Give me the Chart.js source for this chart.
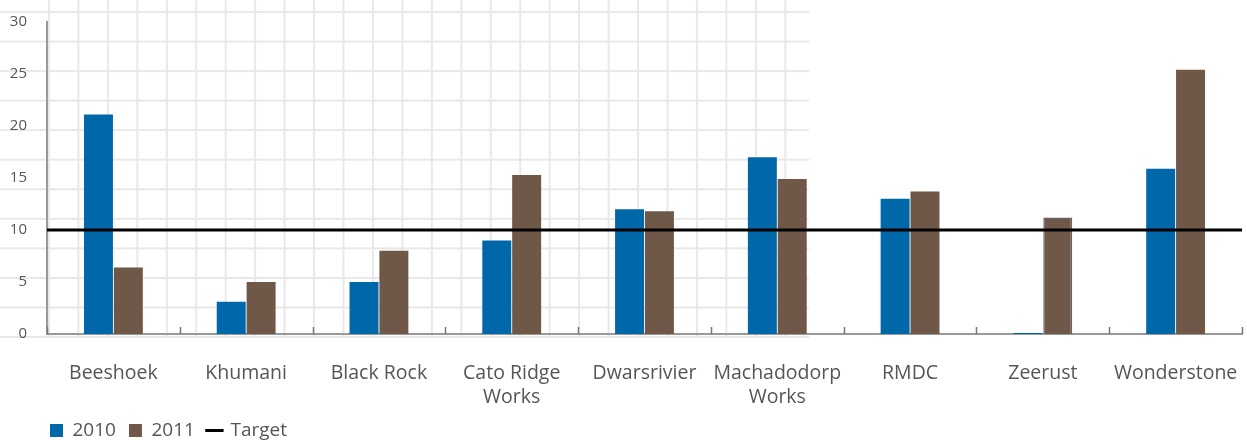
<!DOCTYPE html>
<html>
<head>
<meta charset="utf-8">
<script src="https://cdn.jsdelivr.net/npm/chart.js@4/dist/chart.umd.min.js"></script>
<style>
  html, body { margin: 0; padding: 0; background: #fff; }
  #wrap { position: relative; width: 1247px; height: 440px; overflow: hidden; }
  /* graph-paper background behind the left part of the plot */
  #gridH {
    position: absolute; left: 0; top: 0; width: 809px; height: 338px;
    background-image: linear-gradient(to bottom, #e8e8e8 0, #e8e8e8 2px, transparent 2px);
    background-size: 100% 29.55px; background-position: 0 11px;
  }
  #gridV {
    position: absolute; left: 48px; top: 0; width: 761px; height: 338px;
    background-image: linear-gradient(to right, #e8e8e8 0, #e8e8e8 2px, transparent 2px);
    background-size: 29.46px 100%; background-position: 0 0;
  }
  #trendChart { position: absolute; left: 0; top: 0; }
</style>
</head>
<body>
<div id="wrap">
  <div id="gridH"></div>
  <div id="gridV"></div>
  <canvas id="trendChart" width="1247" height="440"></canvas>
</div>
<script>
// DATA
const categories = [
    "Beeshoek", "Khumani", "Black Rock", ["Cato Ridge", "Works"], "Dwarsrivier",
    ["Machadodorp", "Works"], "RMDC", "Zeerust", "Wonderstone"
];
const values2010 = [21.1, 3.1, 5.0, 9.0, 12.0, 17.0, 13.0, 0.1, 15.9];
const values2011 = [6.4, 5.0, 8.0, 15.3, 11.8, 14.9, 13.7, 11.2, 25.4];
const targetValue = 10;

// target runs edge to edge of the category axis (-0.5 .. n-0.5)
const targetPoints = [
    { x: -0.5, y: targetValue },
    { x: categories.length - 0.5, y: targetValue }
];

// small tick marks pointing up from the x axis at category boundaries
const boundaryTicks = {
    id: "boundaryTicks",
    afterDatasetsDraw(chart) {
        const x = chart.scales.x;
        const c = chart.ctx;
        c.save();
        c.strokeStyle = "#777";
        c.lineWidth = 1.5;
        for (let i = 0; i <= categories.length; i++) {
            const px = Math.round(x.getPixelForValue(i - 0.5)) + 0.5;
            c.beginPath();
            c.moveTo(px, x.top);
            c.lineTo(px, x.top - 7);
            c.stroke();
        }
        c.restore();
    }
};

// line the legend up under the plot
const legendShift = {
    id: "legendShift",
    afterLayout(chart) {
        chart.legend.left += 29;
    }
};

Chart.defaults.font.family = "'Open Sans', sans-serif";
Chart.defaults.color = "#555";

const ctx = document.getElementById("trendChart");

new Chart(ctx, {
    type: "bar",
    data: {
        labels: categories,
        datasets: [
            {
                label: "2010",
                data: values2010,
                backgroundColor: "#0068a9",
                barPercentage: 0.97,
                categoryPercentage: 0.45,
                pointStyle: "rect",
                order: 1
            },
            {
                label: "2011",
                data: values2011,
                backgroundColor: "#6f5848",
                borderColor: "#666",
                borderWidth: ctx => (ctx.type === "data" && ctx.dataIndex === 7 ? 1.5 : 0),
                barPercentage: 0.97,
                categoryPercentage: 0.45,
                pointStyle: "rect",
                order: 1
            },
            {
                type: "line",
                label: "Target",
                data: targetPoints,
                parsing: false,
                borderColor: "#000",
                backgroundColor: "#000",
                borderWidth: 3,
                pointRadius: 0,
                pointStyle: "line",
                order: 0
            }
        ]
    },
    options: {
        responsive: false,
        animation: false,
        layout: { padding: { left: 8, right: 5, top: 22, bottom: -10 } },
        scales: {
            x: {
                grid: { display: false },
                border: { color: "#999", width: 2 },
                afterFit(scale) { scale.height = 74; scale.paddingRight = 0; scale.paddingLeft = 0; },
                ticks: {
                    font: { size: 19.5, lineHeight: 1.2 },
                    padding: 20, maxRotation: 0, autoSkip: false
                }
            },
            y: {
                min: 0,
                max: 30,
                afterFit(scale) { scale.width = 39; scale.paddingTop = 0; scale.paddingBottom = 0; },
                grid: { display: false },
                border: { color: "#999", width: 2 },
                ticks: { stepSize: 5, font: { size: 15 }, padding: 12 }
            }
        },
        plugins: {
            tooltip: { enabled: false },
            legend: {
                position: "bottom",
                align: "start",
                labels: {
                    usePointStyle: true,
                    boxHeight: 13,
                    boxWidth: 13,
                    padding: 13,
                    font: { size: 19 },
                    color: "#555",
                    sort: (a, b) => a.datasetIndex - b.datasetIndex
                }
            }
        }
    },
    plugins: [boundaryTicks, legendShift]
});
</script>
</body>
</html>
